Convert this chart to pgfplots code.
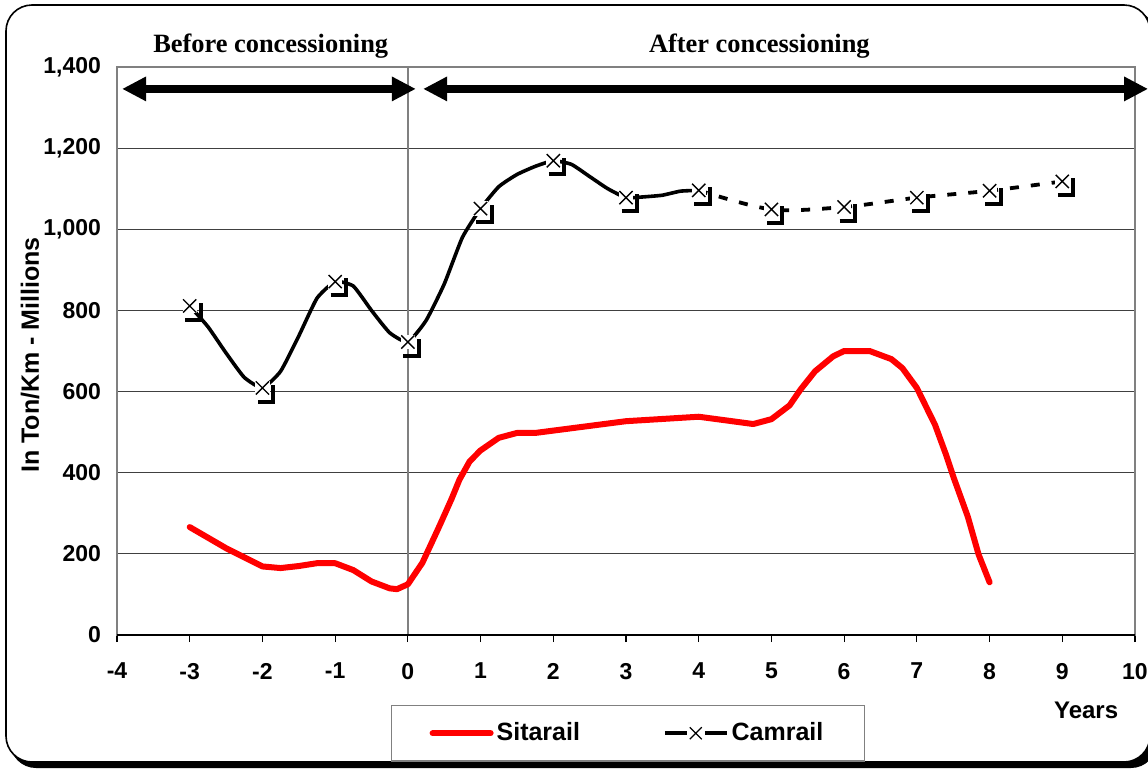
\documentclass[border=0pt]{standalone}
\usepackage{fontspec}
\setmainfont{Liberation Sans}
\newfontfamily\timesfont{Liberation Serif}
\usepackage{pgfplots}
\pgfplotsset{compat=1.18}
\usetikzlibrary{arrows.meta}

% Excel-style marker: thin cross on white, with a heavy corner at bottom right
\pgfdeclareplotmark{camx}{%
  \pgfpathrectangle{\pgfpoint{-3.6pt}{-3.6pt}}{\pgfpoint{7.2pt}{7.2pt}}%
  \pgfsetfillcolor{white}\pgfusepath{fill}%
  \pgfsetlinewidth{0.7pt}%
  \pgfpathmoveto{\pgfpoint{-3.3pt}{-3.3pt}}\pgfpathlineto{\pgfpoint{3.3pt}{3.3pt}}%
  \pgfpathmoveto{\pgfpoint{-3.3pt}{3.3pt}}\pgfpathlineto{\pgfpoint{3.3pt}{-3.3pt}}%
  \pgfusepathqstroke
  \pgfsetlinewidth{2pt}\pgfsetmiterjoin\pgfsetbuttcap
  \pgfpathmoveto{\pgfpoint{-2.2pt}{-6.8pt}}\pgfpathlineto{\pgfpoint{5.5pt}{-6.8pt}}%
  \pgfpathlineto{\pgfpoint{5.5pt}{1.6pt}}%
  \pgfusepathqstroke
}

\pgfplotsset{
  sitaleg/.style={legend image code/.code={\draw[##1] (0pt,0pt) -- (29pt,0pt);}},
  camleg/.style={legend image code/.code={
    \draw[##1] (0pt,0pt) -- (11pt,0pt) (20pt,0pt) -- (31pt,0pt);
    \draw[black, line width=0.6pt] (12.5pt,-3pt) -- (18.5pt,3pt) (12.5pt,3pt) -- (18.5pt,-3pt);}},
}

\begin{document}
\begin{tikzpicture}
\useasboundingbox (-58.5pt,-66.5pt) rectangle (515.5pt,317.5pt);
% chart frame with shadow
\fill[black, rounded corners=13pt] (-53.5pt,-66.5pt) rectangle (520pt,312pt);
\filldraw[fill=white, draw=black, line width=0.8pt, rounded corners=13pt] (-55.5pt,-63.5pt) rectangle (516.5pt,315pt);

\begin{axis}[
    scale only axis,
    width=509pt, height=284pt,
    xmin=-4, xmax=10, ymin=0, ymax=1400,
    xtick={-4,-3,...,10},
    ytick={0,200,...,1400},
    clip=false,
    font=\bfseries\fontsize{11.5}{13}\selectfont,
    /pgf/number format/1000 sep={,},
    /pgf/number format/assume math mode=true,
    axis line style={gray, line width=0.8pt},
    ymajorgrids,
    grid style={black!75, line width=0.5pt},
    tick align=outside,
    xtick pos=bottom,
    major tick length=3.5pt,
    xtick style={black, line width=0.6pt},
    ytick style={draw=none},
    xticklabel style={yshift=-7pt},
    yticklabel style={xshift=-1pt},
    ylabel={In Ton/Km - Millions},
    ylabel style={at={(axis description cs:-0.0855,0.493)}, anchor=center,
                  font=\bfseries\fontsize{12.5}{14}\selectfont},
    xlabel={Years},
    xlabel style={at={(axis description cs:0.952,-0.132)}, anchor=center,
                  font=\bfseries\fontsize{12}{14}\selectfont},
    legend columns=2,
    legend style={at={(axis description cs:0.269,-0.123)}, anchor=north west,
                  draw=gray, line width=0.8pt, inner xsep=19pt, inner ysep=7pt,
                  font=\bfseries\fontsize{12.5}{14}\selectfont,
                  nodes={inner sep=1.5pt},
                  /tikz/every even column/.append style={column sep=40pt}},
]

% vertical line at year 0
\draw[gray, line width=0.8pt] (axis cs:0,0) -- (axis cs:0,1400);

% Sitarail
\addplot[red, line width=3pt, line join=round, line cap=round, forget plot] coordinates {
  (-3,266) (-2.5,214) (-2,169) (-1.75,165) (-1.5,170) (-1.25,177) (-1,177)
  (-0.75,160) (-0.5,132) (-0.25,115) (-0.15,113) (0,125) (0.2,178) (0.43,267)
  (0.6,335) (0.71,383) (0.85,428) (1,455) (1.25,486) (1.5,498) (1.75,498)
  (3,527) (4,538) (4.75,520) (5,532) (5.25,566) (5.4,605) (5.6,650) (5.85,687)
  (6,700) (6.35,700) (6.65,680) (6.8,658) (7,609) (7.25,518) (7.4,445)
  (7.5,391) (7.7,292) (7.85,198) (8,130)
};

% Camrail, observed (solid)
\addplot[black, line width=1.8pt, smooth, tension=0.3, forget plot] coordinates {
  (-3,811) (-2.75,760) (-2.5,695) (-2.25,635) (-2,609) (-1.75,650) (-1.5,737)
  (-1.25,830) (-1,871) (-0.75,860) (-0.5,800) (-0.25,745) (0,722) (0.25,775)
  (0.5,865) (0.75,980) (1,1051) (1.25,1105) (1.5,1135) (1.75,1155) (2,1169)
  (2.25,1160) (2.5,1130) (2.75,1100) (3,1078) (3.25,1080) (3.5,1084)
  (3.75,1094) (4,1096)
};
% Camrail, forecast (dashed)
\addplot[black, line width=1.9pt, dash pattern=on 4.5pt off 6pt, smooth, forget plot] coordinates {
  (4,1096) (5,1049) (6,1055) (7,1078) (8,1095) (9,1118)
};
% Camrail markers
\addplot[black, only marks, mark=camx, forget plot] coordinates {
  (-3,811) (-2,609) (-1,871) (0,722) (1,1051) (2,1169) (3,1078)
  (4,1096) (5,1049) (6,1055) (7,1078) (8,1095) (9,1118)
};

\addlegendimage{red, line width=3pt, line cap=round, sitaleg}
\addlegendentry{Sitarail}
\addlegendimage{black, line width=1.8pt, camleg}
\addlegendentry{Camrail}

% period arrows and headings
\draw[line width=4pt, {Triangle[length=12pt,width=11.5pt]}-{Triangle[length=12pt,width=11.5pt]}]
  (axis cs:-3.93,1346) -- (axis cs:0.11,1346);
\draw[line width=4pt, {Triangle[length=12pt,width=11.5pt]}-{Triangle[length=12pt,width=11.5pt]}]
  (axis cs:0.21,1346) -- (axis cs:10.18,1346);
\node[anchor=base, font=\timesfont\bfseries\fontsize{13.2}{15}\selectfont]
  at (axis description cs:0.151,1.026) {Before concessioning};
\node[anchor=base, font=\timesfont\bfseries\fontsize{13.2}{15}\selectfont]
  at (axis description cs:0.631,1.026) {After concessioning};

% dark bottom axis line
\draw[black, line width=0.8pt] (rel axis cs:0,0) -- (rel axis cs:1,0);
\end{axis}
\end{tikzpicture}
\end{document}
